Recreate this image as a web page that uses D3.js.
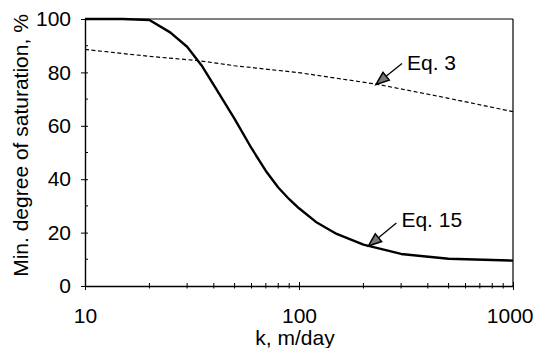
<!DOCTYPE html>
<html>
<head>
<meta charset="utf-8">
<script src="https://cdn.jsdelivr.net/npm/d3@7"></script>
<style>
  body { margin: 0; background: #fff; }
  text { font-family: "Liberation Sans", Arial, sans-serif; fill: #000; }
</style>
</head>
<body>
<div id="chart"></div>
<script>
// Eq. 15 (solid curve)
let kEq15 = [10, 15, 20, 25, 30, 35, 40, 50, 60, 70, 80, 90, 100, 120, 150, 200, 300, 500, 1000];
let sEq15 = [100, 100, 99.6, 95, 89.6, 82.7, 75.2, 62.6, 51.6, 43.1, 36.9, 32.5, 29.1, 24, 19.5, 15.5, 12, 10.2, 9.5];

// Eq. 3 (dashed line)
let kEq3 = [10, 20, 34, 50, 100, 230, 500, 1000];
let sEq3 = [88.6, 86, 84.4, 82.5, 79.9, 75.6, 70.3, 65.3];

// annotation arrows (tip point in data units)
let annotLabels = ["Eq. 3", "Eq. 15"];
let annotK = [229, 211];
let annotS = [75.5, 15];

let xTicks = [10, 100, 1000];
let xMinor = [20, 30, 40, 50, 60, 70, 80, 90, 200, 300, 400, 500, 600, 700, 800, 900];
let yTicks = [0, 20, 40, 60, 80, 100];
let yMinor = [10, 30, 50, 70, 90];

// Set dimensions and margins
let margin = { top: 19, right: 20, bottom: 62, left: 85 },
    width = 533 - margin.left - margin.right,
    height = 348 - margin.top - margin.bottom;

let x = d3.scaleLog().domain([10, 1000]).range([0, width]);
let y = d3.scaleLinear().domain([0, 100]).range([height, 0]);

let svg = d3.select('#chart')
    .append('svg')
    .attr('width', 533)
    .attr('height', 348)
    .append('g')
    .attr('transform', 'translate(' + margin.left + ',' + margin.top + ')');

// frame (top and right)
svg.append('line')
    .attr('x1', 0).attr('x2', width).attr('y1', 0).attr('y2', 0)
    .attr('stroke', '#000').attr('stroke-width', 1);
svg.append('line')
    .attr('x1', width).attr('x2', width).attr('y1', 0).attr('y2', height)
    .attr('stroke', '#000').attr('stroke-width', 1.2);

// X axis
let xAxis = svg.append('g')
    .attr('transform', 'translate(0,' + height + ')')
    .call(d3.axisBottom(x).tickValues(xTicks).tickFormat(d3.format('d')).tickSize(4).tickSizeOuter(0).tickPadding(18));
xAxis.select('.domain').attr('stroke-width', 1.4);
xAxis.selectAll('.tick line').attr('y1', -4);
xAxis.selectAll('.tick text').style('font-size', '21px');
// last label is pulled in so it stays inside the page
xAxis.selectAll('.tick text')
    .filter(function (d) { return d === 1000; })
    .attr('text-anchor', 'end')
    .attr('x', 20);

svg.append('g')
    .selectAll('line')
    .data(xMinor)
    .enter()
    .append('line')
    .attr('x1', function (d) { return x(d); })
    .attr('x2', function (d) { return x(d); })
    .attr('y1', height - 3)
    .attr('y2', height + 2.5)
    .attr('stroke', '#000');

// Y axis
let yAxis = svg.append('g')
    .call(d3.axisLeft(y).tickValues(yTicks).tickSize(4).tickSizeOuter(0).tickPadding(10));
yAxis.select('.domain').attr('stroke-width', 1.4);
yAxis.selectAll('.tick line').attr('x1', 3);
yAxis.selectAll('.tick text').style('font-size', '21px');

svg.append('g')
    .selectAll('line')
    .data(yMinor)
    .enter()
    .append('line')
    .attr('x1', 0)
    .attr('x2', 3)
    .attr('y1', function (d) { return y(d); })
    .attr('y2', function (d) { return y(d); })
    .attr('stroke', '#000');

// axis titles
svg.append('text')
    .attr('x', width / 2 - 4)
    .attr('y', height + 59)
    .attr('text-anchor', 'middle')
    .style('font-size', '21px')
    .text('k, m/day');

svg.append('text')
    .attr('transform', 'translate(' + (-57) + ',' + (height / 2 - 7) + ') rotate(-90)')
    .attr('text-anchor', 'middle')
    .style('font-size', '21px')
    .text('Min. degree of saturation, %');

// lines
let lineEq15 = d3.line()
    .x(function (d, i) { return x(kEq15[i]); })
    .y(function (d) { return y(d); });

let lineEq3 = d3.line()
    .x(function (d, i) { return x(kEq3[i]); })
    .y(function (d) { return y(d); });

svg.append('path')
    .datum(sEq3)
    .attr('fill', 'none')
    .attr('stroke', '#000')
    .attr('stroke-width', 1.2)
    .attr('stroke-dasharray', '4,2.5')
    .attr('d', lineEq3);

svg.append('path')
    .datum(sEq15)
    .attr('fill', 'none')
    .attr('stroke', '#000')
    .attr('stroke-width', 2.4)
    .attr('stroke-linejoin', 'round')
    .attr('d', lineEq15);

// annotation arrows
let tailOffset = [[26, -21], [28, -23]];
let labelOffset = [[31, -14], [33, -19]];

annotLabels.forEach(function (lab, i) {
    let tx = x(annotK[i]), ty = y(annotS[i]);
    let dx = tailOffset[i][0], dy = tailOffset[i][1];
    let len = Math.sqrt(dx * dx + dy * dy);
    let ux = dx / len, uy = dy / len;
    let hl = 13, hw = 5;
    let bx = tx + ux * hl, by = ty + uy * hl;
    svg.append('line')
        .attr('x1', bx).attr('y1', by)
        .attr('x2', tx + dx).attr('y2', ty + dy)
        .attr('stroke', '#000').attr('stroke-width', 1.3);
    svg.append('path')
        .attr('d', 'M' + tx + ',' + ty +
            'L' + (bx - uy * hw) + ',' + (by + ux * hw) +
            'L' + (bx + uy * hw) + ',' + (by - ux * hw) + 'Z')
        .attr('fill', '#777')
        .attr('stroke', '#000')
        .attr('stroke-width', 1.5)
        .attr('stroke-linejoin', 'miter');
    svg.append('text')
        .attr('x', tx + labelOffset[i][0])
        .attr('y', ty + labelOffset[i][1])
        .style('font-size', '21px')
        .text(lab);
});
</script>
</body>
</html>
